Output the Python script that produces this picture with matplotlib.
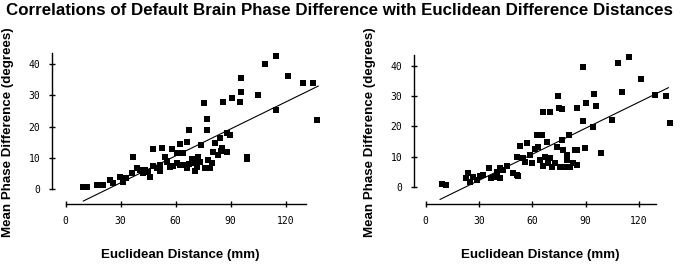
import matplotlib
matplotlib.use('Agg')
from matplotlib import pyplot as plt

# left panel points (euclidean distance mm, mean phase difference deg)
left_x = [9.3, 11.8, 17, 18.7, 20.5, 24, 26, 29.6, 31, 33, 36, 36.5, 38.7, 40.5,
          42.4, 45, 46, 47.8, 47.8, 49.6, 51.5, 52.7, 54, 55, 57, 58.7, 57.8, 60.5,
          62.4, 64, 66, 67, 62.4, 65, 67, 68.7, 70.5, 70.5, 71.5, 72.4, 74, 75.5,
          77, 77, 76, 77.8, 78.7, 79.6, 80.5, 81.5, 83.3, 84, 85, 86, 87.8, 89.6,
          90.5, 95, 95.5, 95.5, 98.7, 105, 109, 114.5, 115, 121.5, 129.6, 135, 137,
          43.3, 51.4, 55, 60.5, 66, 73, 71, 69, 84.5, 88, 99]
left_y = [0.75, 0.5, 1.2, 1.2, 1.2, 2.9, 1.8, 3.7, 2.4, 3.6, 5, 10.4, 6.8, 6.1,
          5.2, 5.6, 4, 7.4, 12.7, 6.6, 5.9, 13, 10.2, 8.8, 7.2, 7.4, 12.7, 11.4,
          14.4, 11.4, 15.2, 18.9, 7.7, 7.8, 8, 8.2, 9.3, 5.9, 7.2, 10.4, 14.1, 27.5,
          22.6, 18.9, 6.6, 9.3, 6.6, 8.2, 12, 14.7, 10.9, 16.3, 13, 27.8, 17.9, 17.3,
          29.1, 28, 31.2, 35.7, 9.5, 30.2, 40.1, 25.3, 42.5, 36.3, 34.1, 34.1, 22.1,
          6.1, 7.7, 9, 8.2, 6.6, 8.8, 8.5, 9.6, 12.2, 11.8, 10.2]
left_fit_x = [9.6, 137.8]
left_fit_y = [-3.85, 33.0]

# right panel points
right_x = [9, 11.4, 22.7, 24, 25, 26.8, 28.7, 30.6, 32.4, 35.8, 37, 39, 40, 41.8,
           41.8, 43.7, 45.6, 49.3, 51.2, 52, 51.2, 53, 55, 55.9, 56.8, 58.7, 59.6,
           61.5, 62.4, 63.4, 64.3, 65.3, 66.2, 65.8, 67, 68, 69, 70, 70, 70.9, 72.8,
           73.7, 74.6, 75.2, 76.5, 76.5, 75.6, 77.4, 78.4, 79.3, 79.7, 80.8, 81.2,
           83, 84, 85.3, 85.3, 85.3, 88.7, 88.7, 89.6, 90.2, 94.3, 94.9, 95.6, 98.4,
           104.6, 108.4, 110.6, 114.6, 121, 129, 135.2, 137.5]
right_y = [0.9, 0.7, 3.1, 4.7, 1.8, 3.2, 2.3, 3.6, 4, 6.4, 2.9, 3.2, 5.1, 2.9,
           6.4, 5.6, 6.9, 4.5, 4, 3.6, 10, 13.6, 9.5, 8.4, 14.4, 10.6, 7.8,
           12.5, 17.2, 13.3, 8.9, 17.2, 6.9, 24.9, 10, 15, 7.8, 24.9, 9.5, 6.7, 7.8,
           13.3, 30.1, 26, 25.8, 15.5, 6.7, 12.2, 6.7, 10.6, 8.9, 17.2, 6.7,
           7.8, 12.2, 26.2, 12.2, 7.3, 39.5, 21.8, 12.8, 27.9, 19.7, 30.7, 26.8, 11.1,
           22.1, 40.9, 31.5, 42.9, 35.6, 30.4, 30.1, 21.3]
right_fit_x = [8.1, 136.5]
right_fit_y = [-4.1, 32.8]

x_ticks = [0, 30, 60, 90, 120]
y_ticks = [0, 10, 20, 30, 40]

fig = plt.figure(figsize=(6.8, 2.65), dpi=100)

panels = [
    ([0.0765, 0.2302, 0.3975, 0.571], (-7.47, 140), (-4.8, 43.7), 131,
     left_x, left_y, left_fit_x, left_fit_y, 0.265),
    ([0.6088, 0.229, 0.3885, 0.5634], (-6.58, 142), (-5.72, 43.6), 129.5,
     right_x, right_y, right_fit_x, right_fit_y, 0.795),
]

for rect, xl, yl, xend, xs, ys, fx, fy, lab_x in panels:
    ax = fig.add_axes(rect)
    ax.scatter(xs, ys, marker='s', s=23, c='black', linewidths=0, clip_on=False, zorder=3)
    ax.plot(fx, fy, c='black', lw=0.8, clip_on=False)
    ax.set_xlim(*xl)
    ax.set_ylim(*yl)
    for s in ['top', 'right']:
        ax.spines[s].set_visible(False)
    ax.spines['left'].set_bounds(0, yl[1])
    ax.spines['bottom'].set_bounds(0, xend)
    ax.spines['left'].set_linewidth(1.0)
    ax.spines['bottom'].set_linewidth(1.0)
    ax.set_xticks(x_ticks)
    ax.set_yticks(y_ticks)
    ax.tick_params(axis='both', direction='inout', length=5, width=1.0,
                   labelsize=7, pad=6)
    for t in ax.get_xticklabels() + ax.get_yticklabels():
        t.set_family('DejaVu Sans Mono')
    ax.patch.set_visible(False)
    fig.text(lab_x, 0.036, 'Euclidean Distance (mm)', ha='center', va='center',
             fontsize=9.6, fontweight='bold', family='Liberation Sans')
    fig.text(rect[0] - 0.064, 0.50, 'Mean Phase Difference (degrees)', rotation=90,
             ha='center', va='center', fontsize=9.6, fontweight='bold',
             family='Liberation Sans')

fig.text(0.5, 0.962, 'Correlations of Default Brain Phase Difference with Euclidean Difference Distances',
         ha='center', va='center', fontsize=12.2, fontweight='bold', family='Liberation Sans')

fig.savefig('out.png', dpi=100)
